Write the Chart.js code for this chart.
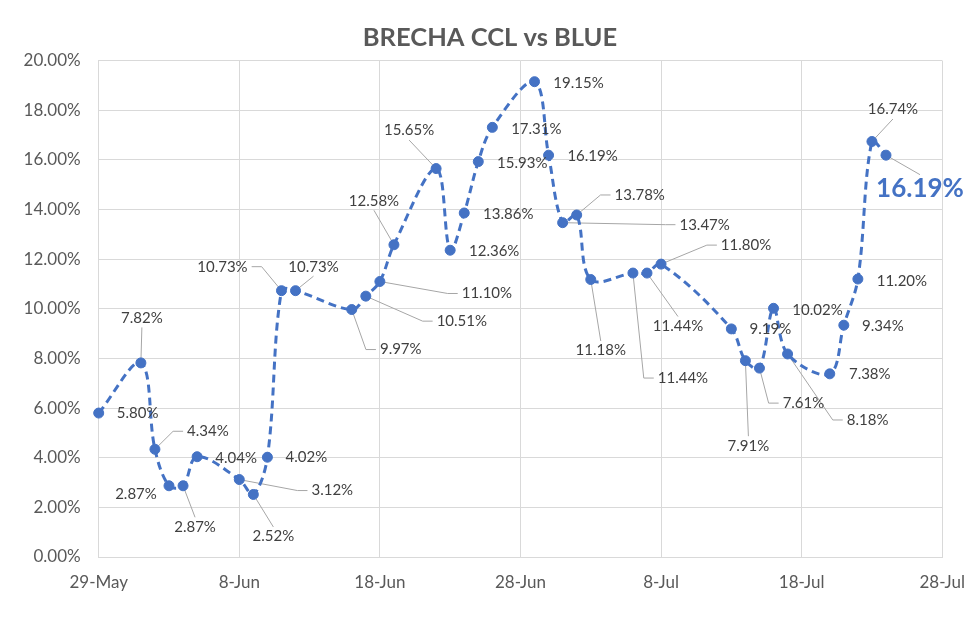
<!DOCTYPE html>
<html>
<head>
<meta charset="utf-8">
<title>BRECHA CCL vs BLUE</title>
<script src="https://cdn.jsdelivr.net/npm/chart.js@4.4.1/dist/chart.umd.min.js"></script>
<style>
  html, body { margin: 0; padding: 0; background: #fff; }
  #wrap { width: 980px; height: 624px; }
</style>
</head>
<body>
<div id="wrap"><canvas id="brechaChart" width="980" height="624"></canvas></div>
<script>
// --- data
const dates = [
  "2020-05-29", "2020-06-01", "2020-06-02", "2020-06-03", "2020-06-04", "2020-06-05",
  "2020-06-08", "2020-06-09", "2020-06-10", "2020-06-11", "2020-06-12",
  "2020-06-16", "2020-06-17", "2020-06-18", "2020-06-19",
  "2020-06-22", "2020-06-23", "2020-06-24", "2020-06-25", "2020-06-26",
  "2020-06-29", "2020-06-30", "2020-07-01", "2020-07-02", "2020-07-03",
  "2020-07-06", "2020-07-07", "2020-07-08",
  "2020-07-13", "2020-07-14", "2020-07-15", "2020-07-16", "2020-07-17",
  "2020-07-20", "2020-07-21", "2020-07-22", "2020-07-23", "2020-07-24"
];
const brecha = [
  5.80, 7.82, 4.34, 2.87, 2.87, 4.04,
  3.12, 2.52, 4.02, 10.73, 10.73,
  9.97, 10.51, 11.10, 12.58,
  15.65, 12.36, 13.86, 15.93, 17.31,
  19.15, 16.19, 13.47, 13.78, 11.18,
  11.44, 11.44, 11.80,
  9.19, 7.91, 7.61, 10.02, 8.18,
  7.38, 9.34, 11.20, 16.74, 16.19
];
const tickLabels = ["29-May", "8-Jun", "18-Jun", "28-Jun", "8-Jul", "18-Jul", "28-Jul"];
const yTicks = [0, 2, 4, 6, 8, 10, 12, 14, 16, 18, 20];

// label placement relative to each point (px) and leader style
const labelDx = [39, 1, 53, -33, 12, 39, 93, 20, 39, -59, 18, 49, 96, 107, -20, -27, 44, 44, 44, 44, 44, 44, 142, 63, 10, 50, 31, 85, 39, 3, 44, 44, 80, 40, 39, 44, 21, 34];
const labelDy = [0, -45, -18, 8, 41, 1, 11, 42, 0, -24, -24, 40, 25, 12, -44, -38, 1, 1, 2, 2, 1, 1, 2, -20, 71, 105, 53, -19, 0, 85, 35, 2, 66, 0, 1, 2, -32, 33];
const leaderKind = ["", "v", "h", "", "v", "", "h", "v", "", "h", "v", "h", "h", "h", "v", "v", "", "", "", "", "", "", "h", "h", "v", "h", "v", "h", "", "v", "h", "", "h", "", "", "", "v", "v"];

const DAY = 86400000;
const startDay = Date.parse(dates[0]);
const points = dates.map((d, i) => ({ x: (Date.parse(d) - startDay) / DAY, y: brecha[i] }));

const lineColor = "#4472C4";
const textColor = "#595959";

const dataLabels = {
  id: "dataLabels",
  beforeDatasetsDraw(chart) {
    const ctx = chart.ctx;
    const meta = chart.getDatasetMeta(0);
    ctx.save();
    ctx.strokeStyle = "#a6a6a6";
    ctx.lineWidth = 1;
    meta.data.forEach((pt, i) => {
      const kind = leaderKind[i];
      if (!kind) return;
      const last = i === brecha.length - 1;
      ctx.font = last ? "bold 26px Lato" : "15px Lato";
      const text = brecha[i].toFixed(2) + "%";
      const w = ctx.measureText(text).width;
      const h = last ? 19 : 11;
      const cx = pt.x + labelDx[i];
      const cy = pt.y + labelDy[i];
      ctx.beginPath();
      ctx.moveTo(pt.x, pt.y);
      if (kind === "h") {
        const side = labelDx[i] > 0 ? -1 : 1;
        const ex = cx + side * (w / 2 + 4);
        ctx.lineTo(ex + side * 10, cy);
        ctx.lineTo(ex, cy);
      } else {
        const ey = labelDy[i] > 0 ? cy - h / 2 - 4 : cy + h / 2 + 4;
        ctx.lineTo(cx, ey);
      }
      ctx.stroke();
    });
    ctx.restore();
  },
  afterDatasetsDraw(chart) {
    const ctx = chart.ctx;
    const meta = chart.getDatasetMeta(0);
    ctx.save();
    ctx.textAlign = "center";
    ctx.textBaseline = "middle";
    meta.data.forEach((pt, i) => {
      const last = i === brecha.length - 1;
      ctx.font = last ? "bold 26px Lato" : "15px Lato";
      ctx.fillStyle = last ? lineColor : "#404040";
      ctx.fillText(brecha[i].toFixed(2) + "%", pt.x + labelDx[i], pt.y + labelDy[i]);
    });
    ctx.restore();
  }
};

new Chart(document.getElementById("brechaChart"), {
  type: "line",
  data: {
    datasets: [{
      label: "Brecha",
      data: points,
      borderColor: lineColor,
      backgroundColor: lineColor,
      borderWidth: 3,
      borderDash: [8, 5],
      tension: 0.35,
      clip: false,
      pointRadius: 5,
      pointBorderWidth: 1,
      pointBackgroundColor: lineColor,
      pointBorderColor: lineColor
    }]
  },
  options: {
    responsive: false,
    animation: false,
    layout: { padding: { left: 17, right: 17, bottom: 22, top: 0 } },
    plugins: {
      legend: { display: false },
      tooltip: { enabled: false },
      title: {
        display: true,
        text: "BRECHA CCL vs BLUE",
        color: textColor,
        font: { family: "Lato", size: 25.5, weight: "bold" },
        padding: { top: 22, bottom: 8 }
      }
    },
    scales: {
      x: {
        type: "linear",
        min: 0,
        max: 60,
        afterBuildTicks: scale => { scale.ticks = tickLabels.map((_, i) => ({ value: i * 10 })); },
        afterFit: scale => { scale.height = 45; },
        ticks: {
          callback: value => tickLabels[value / 10],
          color: textColor,
          font: { family: "Lato", size: 17 },
          padding: 15,
          maxRotation: 0
        },
        grid: { color: "#d9d9d9", drawTicks: false },
        border: { color: "#d9d9d9" }
      },
      y: {
        min: 0,
        max: 20,
        afterBuildTicks: scale => { scale.ticks = yTicks.map(v => ({ value: v })); },
        afterFit: scale => { scale.width = 81.7; },
        ticks: {
          callback: value => value.toFixed(2) + "%",
          color: textColor,
          font: { family: "Lato", size: 17 },
          padding: 18
        },
        grid: { color: "#d9d9d9", drawTicks: false },
        border: { color: "#d9d9d9" }
      },
      // empty right-hand gutter so the title centres on the full canvas
      yRight: {
        position: "right",
        min: 0,
        max: 20,
        afterFit: scale => { scale.width = 17.4; },
        ticks: { display: false },
        grid: { display: false, drawTicks: false },
        border: { display: false }
      }
    }
  },
  plugins: [dataLabels]
});
</script>
</body>
</html>
